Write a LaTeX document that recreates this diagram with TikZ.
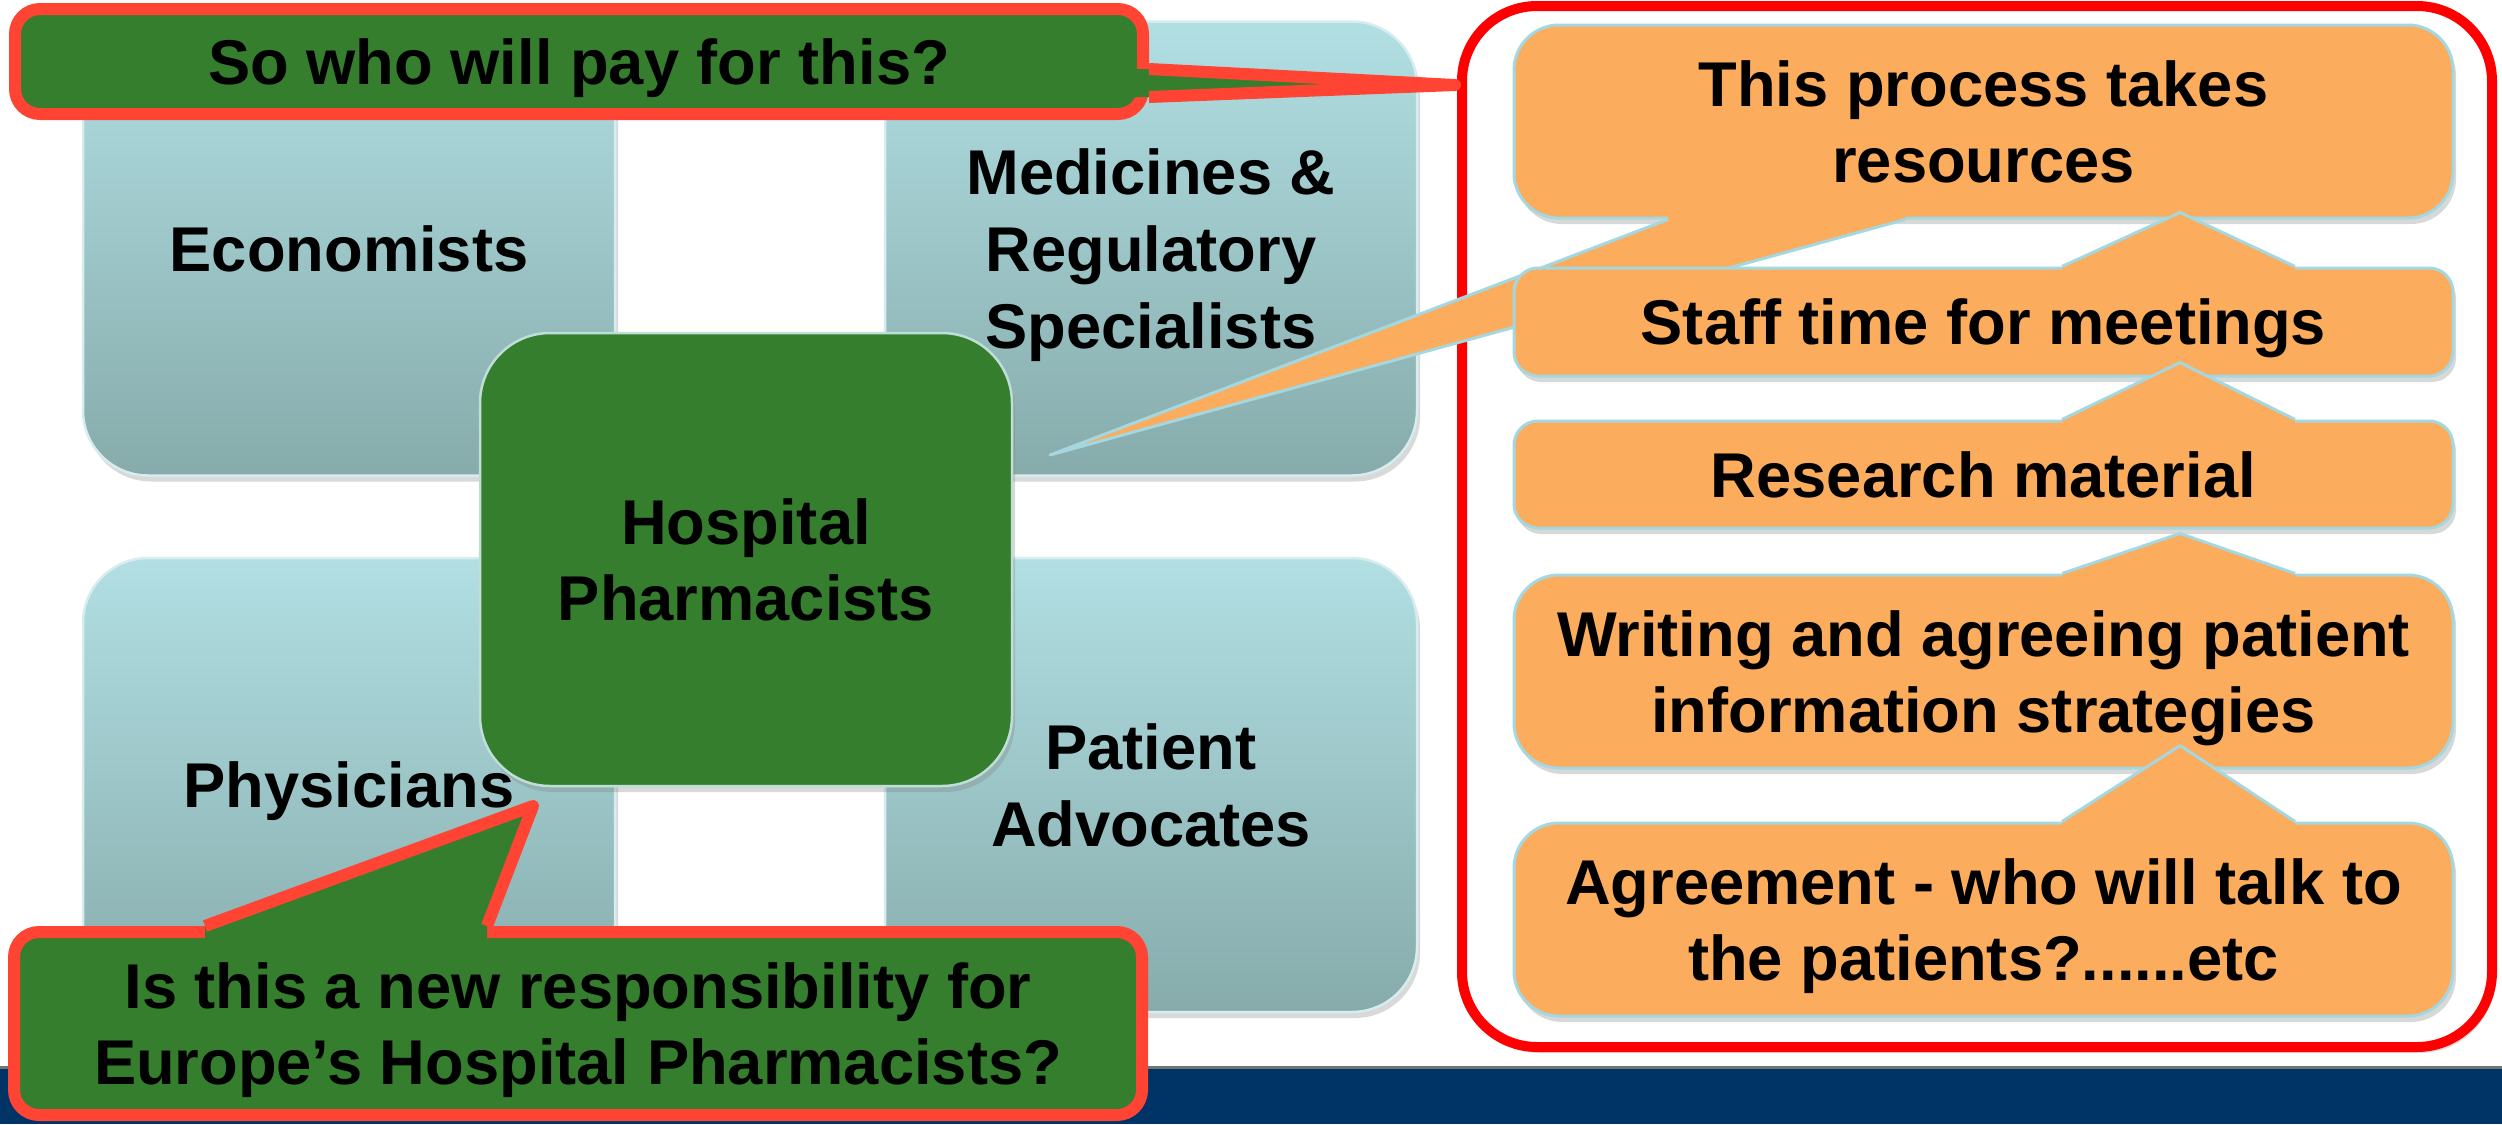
\documentclass[tikz,border=0pt]{standalone}
\usepackage{fontspec}
\setmainfont{Liberation Sans}
\usetikzlibrary{shadows}
\definecolor{tealtop}{RGB}{177,223,227}
\definecolor{tealbot}{RGB}{135,171,171}
\definecolor{tealline}{RGB}{215,236,238}
\definecolor{hubgreen}{RGB}{53,126,46}
\definecolor{hubline}{RGB}{190,222,215}
\definecolor{taskorange}{RGB}{251,172,92}
\definecolor{taskline}{RGB}{165,215,225}
\definecolor{notered}{RGB}{255,68,51}
\definecolor{framered}{RGB}{255,0,0}
\definecolor{bandnavy}{RGB}{0,51,102}
\tikzset{every node/.style={font=\bfseries\fontsize{18}{21.8}\selectfont, align=center, text depth=0pt}}
\tikzset{soft-shadow/.style={drop shadow={shadow xshift=0.3mm, shadow yshift=-0.6mm, opacity=0.3}}}
\tikzset{group-box/.style={rounded corners=6.5mm, minimum width=53.2mm, minimum height=45.4mm, top color=tealtop, bottom color=tealbot, draw=tealline, line width=0.25mm, soft-shadow}}
\tikzset{hub-box/.style={rounded corners=7mm, minimum width=53.2mm, minimum height=45.3mm, fill=hubgreen, draw=hubline, line width=0.25mm, soft-shadow}}
\tikzset{frame-box/.style={rounded corners=7.5mm, minimum width=103mm, minimum height=104.1mm, draw=framered, fill=white, line width=1mm, soft-shadow}}
\tikzset{task-box/.style={minimum width=93.9mm, fill=taskorange, draw=taskline, line width=0.3mm, soft-shadow}}
\tikzset{task-fill/.style={fill=taskorange}}
\tikzset{task-edge/.style={draw=taskline, line width=0.3mm, line join=round}}
\tikzset{note-box/.style={rounded corners=2.5mm, minimum width=112.8mm, fill=hubgreen, draw=notered, line width=1.2mm}}
\tikzset{note-fill/.style={fill=hubgreen}}
\tikzset{note-edge/.style={draw=notered, line width=1.2mm, line join=round}}

\begin{document}
\begin{tikzpicture}[x=0.1mm, y=-0.1mm]
      \useasboundingbox (0,0) rectangle (2502,1124);
      \fill[bandnavy] (0,1068) rectangle (2502,1124);
      \draw[black!55, line width=0.3mm] (0,1067) -- (2502,1067);

      \node[group-box] (econ) at (349,248.5) {Economists};
      \node[group-box] (medic) at (1151,248.5) {Medicines \&\\Regulatory\\Specialists};
      \node[group-box] (phys) at (349,785) {Physicians};
      \node[group-box] (advoc) at (1151,785) {Patient\\Advocates};
      \node[hub-box] (hosp) at (746,559.5) {Hospital\\Pharmacists};

      \node[frame-box] (frame) at (1977,526.5) {};

      \node[task-box, minimum height=19.3mm, rounded corners=4.5mm] (res) at (1983.5,121.5) {This process takes\\resources};
      \coordinate (res-tip) at (1050,455);
      \fill[task-fill] ([xshift=-31.55mm]res.south) -- (res-tip) -- ([xshift=-7.85mm]res.south)
        -- ([xshift=-7.85mm, yshift=0.6mm]res.south) -- ([xshift=-31.55mm, yshift=0.6mm]res.south) -- cycle;
      \draw[task-edge] ([xshift=-31.55mm]res.south) -- (res-tip) -- ([xshift=-7.85mm]res.south);

      \node[task-box, minimum height=10.8mm, rounded corners=2.4mm] (staff) at (1983.5,322) {Staff time for meetings};
      \node[task-box, minimum height=10.7mm, rounded corners=2.4mm] (research) at (1983.5,474.5) {Research material};
      \node[task-box, minimum height=19.3mm, rounded corners=4.5mm] (writing) at (1983.5,671.5) {Writing and agreeing patient\\information strategies};
      \node[task-box, minimum height=19.3mm, rounded corners=4.5mm] (agree) at (1983.5,919.5) {Agreement - who will talk to\\the patients?......etc};

      \foreach \lo/\up/\gap in {staff/res/0.7, research/staff/1.5, writing/research/-0.4, agree/writing/2.4} {
        \fill[task-fill] ([xshift=7.85mm]\lo.north) -- ([xshift=19.65mm, yshift=\gap mm]\up.south) -- ([xshift=31.15mm]\lo.north)
          -- ([xshift=31.15mm, yshift=-0.6mm]\lo.north) -- ([xshift=7.85mm, yshift=-0.6mm]\lo.north) -- cycle;
        \draw[task-edge] ([xshift=7.85mm]\lo.north) -- ([xshift=19.65mm, yshift=\gap mm]\up.south) -- ([xshift=31.15mm]\lo.north);
      }

      \node[note-box, minimum height=10.5mm] (pay) at (579,61.5) {So who will pay for this?};
      \coordinate (pay-tip) at (1455,85);
      \fill[note-fill] ([yshift=-0.75mm]pay.east) -- (pay-tip) -- ([yshift=-3.55mm]pay.east)
        -- ([xshift=-1.5mm, yshift=-3.55mm]pay.east) -- ([xshift=-1.5mm, yshift=-0.75mm]pay.east) -- cycle;
      \draw[note-edge] ([yshift=-0.75mm]pay.east) -- (pay-tip) -- ([yshift=-3.55mm]pay.east);

      \node[note-box, minimum height=18.3mm] (resp) at (578,1023.5) {Is this a new responsibility for\\Europe’s Hospital Pharmacists?};
      \coordinate (resp-tip) at (533,806);
      \fill[note-fill] ([xshift=-37.3mm]resp.north) -- (resp-tip) -- ([xshift=-9.1mm]resp.north)
        -- ([xshift=-9.1mm, yshift=-1.5mm]resp.north) -- ([xshift=-37.3mm, yshift=-1.5mm]resp.north) -- cycle;
      \draw[note-edge] ([xshift=-37.3mm]resp.north) -- (resp-tip) -- ([xshift=-9.1mm]resp.north);
    \end{tikzpicture}
\end{document}
